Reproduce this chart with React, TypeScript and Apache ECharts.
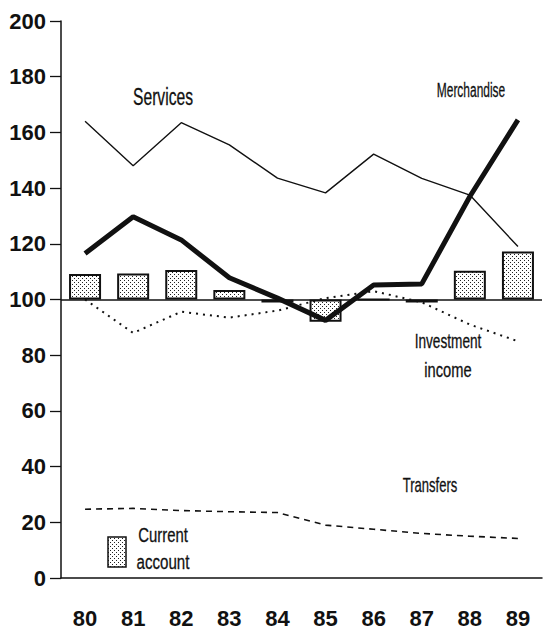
import React, { useEffect, useRef } from "react";
import * as echarts from "echarts";

const years = ["80", "81", "82", "83", "84", "85", "86", "87", "88", "89"];
const services = [164, 148, 163.5, 155.5, 143.6, 138.3, 152.2, 143.5, 137.5, 119];
const merchandise = [116.5, 129.7, 121.4, 107.8, 100.5, 92.5, 105.2, 105.6, 137, 164.5];
const investmentIncome = [100, 88, 95.6, 93.5, 96, 100.5, 103, 99, 91, 85];
const transfers = [24.7, 25, 24.2, 23.8, 23.5, 19, 17.5, 16, 15, 14.2];
const currentAccount = [109.2, 109.3, 110.6, 103.4, 98.9, 92, 100, 98.9, 110.3, 117.2];
const baseline = 100;
const yTicks = { min: 0, max: 200, interval: 20 };

const FONT = "'Liberation Sans', Arial, sans-serif";

function makePattern() {
  const c = document.createElement("canvas");
  c.width = 4;
  c.height = 4;
  const ctx = c.getContext("2d");
  if (ctx) {
    ctx.fillStyle = "#ffffff";
    ctx.fillRect(0, 0, 4, 4);
    ctx.fillStyle = "#222222";
    ctx.fillRect(0, 0, 1, 1);
    ctx.fillRect(2, 2, 1, 1);
  }
  return { image: c, repeat: "repeat" as const };
}

export default function App() {
  const ref = useRef<HTMLDivElement>(null);
  useEffect(() => {
    if (!ref.current) return;
    const chart = echarts.init(ref.current, undefined, { renderer: "svg" });
    const pattern = makePattern();
    const label = (text: string, x: number, y: number, size: number, sx: number) => ({
      type: "text",
      x,
      y,
      scaleX: sx,
      style: {
        text,
        font: `${size}px ${FONT}`,
        fill: "#111",
        stroke: "#111",
        lineWidth: 0.3,
        textAlign: "center",
        textVerticalAlign: "middle",
      },
    });
    chart.setOption({
      animation: false,
      grid: { left: 61, right: 2, top: 21, bottom: 52 },
      xAxis: {
        type: "category",
        data: years,
        boundaryGap: true,
        axisLine: { lineStyle: { color: "#111", width: 1.5 } },
        axisTick: { alignWithLabel: true, length: 11, lineStyle: { color: "#111", width: 1.3 } },
        axisLabel: {
          margin: 29,
          color: "#111",
          fontFamily: FONT,
          fontWeight: "bold",
          fontSize: 22,
        },
      },
      yAxis: {
        type: "value",
        min: yTicks.min,
        max: yTicks.max,
        interval: yTicks.interval,
        splitLine: { show: false },
        axisLine: { show: true, lineStyle: { color: "#111", width: 1.5 } },
        axisTick: { show: true, length: 11, lineStyle: { color: "#111", width: 1.3 } },
        axisLabel: {
          margin: 15,
          color: "#111",
          fontFamily: FONT,
          fontWeight: "bold",
          fontSize: 22,
        },
      },
      series: [
        {
          type: "bar",
          stack: "ca",
          stackStrategy: "all",
          barWidth: 32,
          data: currentAccount.map(() => baseline),
          itemStyle: { color: "rgba(0,0,0,0)" },
          silent: true,
        },
        {
          name: "Current account",
          type: "bar",
          stack: "ca",
          stackStrategy: "all",
          barWidth: 32,
          data: currentAccount.map((v) => +(v - baseline).toFixed(2)),
          itemStyle: { color: pattern, borderColor: "#111", borderWidth: 2 },
          markLine: {
            silent: true,
            symbol: "none",
            label: { show: false },
            lineStyle: { color: "#111", width: 1.5, type: "solid" },
            data: [{ yAxis: baseline }],
          },
        },
        {
          name: "Services",
          type: "line",
          data: services,
          symbol: "none",
          lineStyle: { color: "#111", width: 1.4 },
        },
        {
          name: "Merchandise",
          type: "line",
          data: merchandise,
          symbol: "none",
          lineStyle: { color: "#111", width: 5 },
        },
        {
          name: "Investment income",
          type: "line",
          data: investmentIncome,
          symbol: "none",
          lineStyle: { color: "#111", width: 2, type: [2, 5] },
        },
        {
          name: "Transfers",
          type: "line",
          data: transfers,
          symbol: "none",
          lineStyle: { color: "#111", width: 1.6, type: [6, 5] },
        },
      ],
      graphic: [
        label("Services", 163, 97, 23, 0.68),
        label("Merchandise", 471, 90, 21, 0.57),
        label("Investment", 448, 341, 21, 0.65),
        label("income", 448, 370, 21, 0.7),
        label("Transfers", 430, 485, 21, 0.62),
        label("Current", 163, 535, 21, 0.71),
        label("account", 163, 562, 21, 0.72),
        {
          type: "rect",
          shape: { x: 108, y: 537, width: 18, height: 30 },
          style: { fill: pattern, stroke: "#111", lineWidth: 1.5 },
        },
      ],
    });
    return () => chart.dispose();
  }, []);
  return (
    <div
      ref={ref}
      style={{ position: "absolute", left: 0, top: 0, width: 544, height: 630, background: "#fff" }}
    />
  );
}
